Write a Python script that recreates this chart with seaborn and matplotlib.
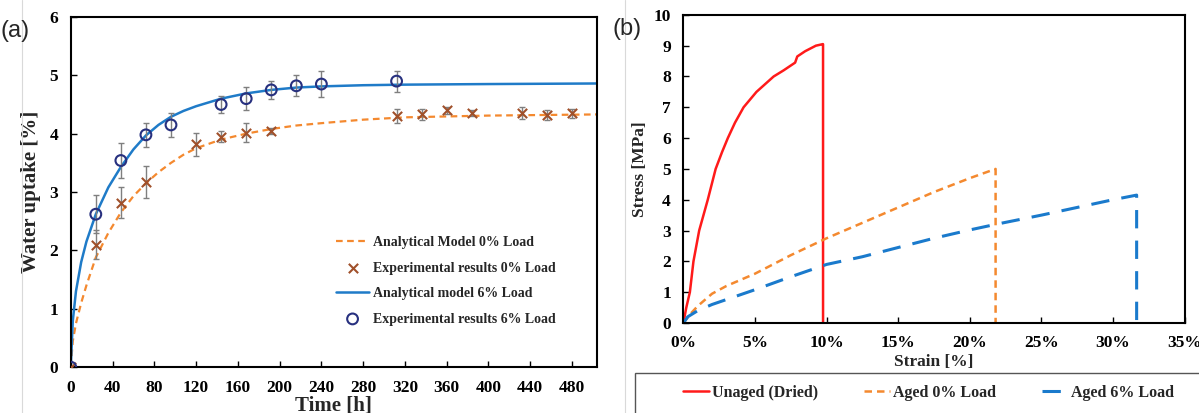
import numpy as np
import pandas as pd
import matplotlib
matplotlib.use('Agg')
import matplotlib.pyplot as plt
import seaborn as sns

# panel (a): water uptake
model_t = [0, 2, 5, 10, 15, 24, 36, 48, 60, 72, 84, 96, 108, 120, 144, 168, 192, 216, 240, 280, 320, 400, 505]
model_0 = [0, 0.45, 0.75, 1.1, 1.4, 1.88, 2.3, 2.65, 2.93, 3.15, 3.34, 3.5, 3.64, 3.75, 3.9, 4.0, 4.08, 4.14, 4.18, 4.24, 4.28, 4.31, 4.33]
model_6 = [0, 0.8, 1.3, 1.8, 2.15, 2.62, 3.08, 3.43, 3.73, 3.97, 4.15, 4.29, 4.39, 4.47, 4.6, 4.69, 4.75, 4.79, 4.81, 4.83, 4.84, 4.85, 4.86]

exp0_t = [0, 24, 48, 72, 120, 144, 168, 192, 312, 336, 360, 384, 432, 456, 480]
exp0_y = [0, 2.1, 2.82, 3.17, 3.82, 3.95, 4.02, 4.05, 4.3, 4.33, 4.4, 4.35, 4.35, 4.32, 4.35]
exp0_err = [0, 0.25, 0.27, 0.27, 0.2, 0.1, 0.16, 0.05, 0.12, 0.1, 0.06, 0.05, 0.1, 0.08, 0.08]

exp6_t = [0, 24, 48, 72, 96, 144, 168, 192, 216, 240, 312]
exp6_y = [0, 2.62, 3.54, 3.98, 4.15, 4.5, 4.6, 4.75, 4.82, 4.85, 4.9]
exp6_err = [0, 0.33, 0.3, 0.2, 0.2, 0.15, 0.2, 0.15, 0.18, 0.23, 0.18]

# panel (b): stress-strain curves
unaged_x = [0, 0.2, 0.45, 0.7, 1.1, 1.7, 2.25, 2.7, 3.1, 3.6, 4.2, 5.1, 6.3, 7.0, 7.8, 7.95, 8.5, 9.25, 9.73, 9.75, 9.75]
unaged_y = [0, 0.5, 1.0, 2.0, 3.0, 4.0, 5.0, 5.55, 6.0, 6.5, 7.0, 7.5, 8.0, 8.2, 8.45, 8.65, 8.82, 9.0, 9.05, 9.05, 0]
aged0_x = [0, 0.5, 1, 2, 3, 5, 7.5, 10, 12.5, 15, 17.5, 20, 21.8, 21.8]
aged0_y = [0, 0.3, 0.55, 0.95, 1.2, 1.6, 2.2, 2.75, 3.25, 3.75, 4.25, 4.7, 5.0, 0]
aged6_x = [0, 0.3, 1, 2, 5, 7.5, 10, 12.5, 15, 17.5, 20, 21.8, 25, 27.5, 30, 31.65, 31.65]
aged6_y = [0, 0.2, 0.4, 0.6, 1.08, 1.5, 1.9, 2.15, 2.45, 2.75, 3.02, 3.2, 3.5, 3.75, 4.0, 4.15, 0]

sns.set_style('white')
plt.rcParams['font.family'] = ['Liberation Serif', 'DejaVu Serif']
plt.rcParams['font.weight'] = 'bold'

orange = '#F4892F'
blue = '#1F7BC8'

fig = plt.figure(figsize=(11.99, 4.13), dpi=100)
ax1 = fig.add_axes([0.059, 0.111, 0.439, 0.848])
ax2 = fig.add_axes([0.570, 0.218, 0.418, 0.746])

# --- (a)
sns.lineplot(x=model_t, y=model_0, ax=ax1, color=orange, linestyle=(0, (3, 2)), lw=1.6,
             label='Analytical Model 0% Load', sort=False, estimator=None)
ax1.errorbar(exp0_t, exp0_y, yerr=exp0_err, fmt='none', ecolor='#7f7f7f', elinewidth=1, capsize=2.5)
sns.scatterplot(x=exp0_t, y=exp0_y, ax=ax1, marker='x', color='#A0502A', s=45, linewidth=1.5,
                label='Experimental results 0% Load', zorder=4)
sns.lineplot(x=model_t, y=model_6, ax=ax1, color=blue, lw=1.8, label='Analytical model 6% Load',
             sort=False, estimator=None)
ax1.errorbar(exp6_t, exp6_y, yerr=exp6_err, fmt='none', ecolor='#7f7f7f', elinewidth=1, capsize=2.5)
sns.scatterplot(x=exp6_t, y=exp6_y, ax=ax1, marker='o', facecolor='none', edgecolor='#27307F', s=60,
                linewidth=1.5, label='Experimental results 6% Load', zorder=4)

ax1.set_xlim(0, 504)
ax1.set_ylim(0, 6)
ax1.set_xticks(range(0, 481, 40))
ax1.set_yticks(range(0, 7))
ax1.set_xlabel('Time [h]', fontsize=15, fontweight='bold', labelpad=0)
ax1.set_ylabel('Water uptake [%]', fontsize=15, fontweight='bold', labelpad=6)
leg1 = ax1.legend(loc='upper left', bbox_to_anchor=(0.48, 0.41), frameon=False, fontsize=10,
                  handlelength=2.4, handletextpad=0.3, labelspacing=0.9)

# --- (b)
sns.lineplot(x=unaged_x, y=unaged_y, ax=ax2, color='#FF1A1A', lw=1.8, label='Unaged (Dried)',
             sort=False, estimator=None)
sns.lineplot(x=aged0_x, y=aged0_y, ax=ax2, color=orange, lw=1.8, linestyle=(0, (3, 2)),
             label='Aged 0% Load', sort=False, estimator=None)
sns.lineplot(x=aged6_x, y=aged6_y, ax=ax2, color='#1A7ACC', lw=2.2, linestyle=(0, (6, 4)),
             label='Aged 6% Load', sort=False, estimator=None)

ax2.set_xlim(0, 35)
ax2.set_ylim(0, 10)
ax2.set_xticks(range(0, 36, 5))
ax2.set_xticklabels([f'{v}%' for v in range(0, 36, 5)])
ax2.set_yticks(range(0, 11))
ax2.set_xlabel('Strain [%]', fontsize=12.5, fontweight='bold', labelpad=2)
ax2.set_ylabel('Stress [MPa]', fontsize=12.5, fontweight='bold', labelpad=4)
ax2.legend_.remove()

# boxed legend strip under panel (b), running off the bottom/right edge
fig.add_artist(plt.Rectangle((635 / 1199, -0.05), 0.5, (413 - 373) / 413 + 0.05,
                             transform=fig.transFigure, fill=False, edgecolor='#555555', lw=1.0))
handles, labels = ax2.get_legend_handles_labels()
leg2 = fig.legend(handles, labels, loc='center left', bbox_to_anchor=(683 / 1199, (413 - 393) / 413),
                  ncol=3, fontsize=11.5, frameon=False, handlelength=1.6, handletextpad=0.2,
                  columnspacing=2.9, borderpad=0, borderaxespad=0)

for ax in (ax1, ax2):
    for sp in ax.spines.values():
        sp.set_color('black')
        sp.set_linewidth(1.5)
    ax.tick_params(direction='in', length=4, width=1, colors='black', labelsize=12.5,
                   bottom=True, left=True, pad=9)
    for t in ax.get_xticklabels() + ax.get_yticklabels():
        t.set_fontweight('bold')

fig.text(0.0, 0.91, '(a)', fontsize=17, family=['Liberation Sans', 'DejaVu Sans'], fontweight='normal')
fig.text(0.511, 0.915, '(b)', fontsize=17, family=['Liberation Sans', 'DejaVu Sans'], fontweight='normal')

# thin panel border lines seen in the source image
fig.add_artist(plt.Line2D([0.018, 0.018], [0, 1], color='#d9d9d9', lw=0.8, transform=fig.transFigure))
fig.add_artist(plt.Line2D([0.521, 0.521], [0, 1], color='#d9d9d9', lw=0.8, transform=fig.transFigure))

fig.savefig('out.png', dpi=100)
